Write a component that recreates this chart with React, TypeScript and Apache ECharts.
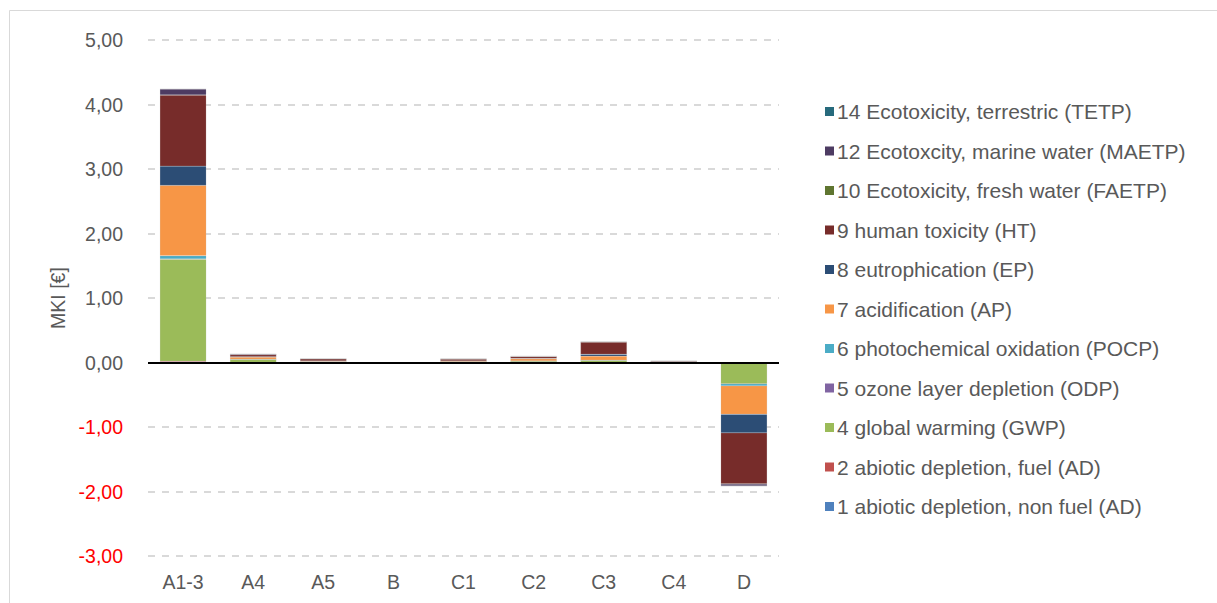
import React, { useEffect, useRef } from "react";
import * as echarts from "echarts";

const categories = ["A1-3", "A4", "A5", "B", "C1", "C2", "C3", "C4", "D"];

const adNonFuel = [0.01, 0, 0, 0, 0, 0, 0, 0, -0.005];
const adFuel = [0.01, 0.002, 0.001, 0, 0.001, 0.002, 0.003, 0, -0.01];
const gwp = [1.58, 0.045, 0.01, 0, 0.008, 0.02, 0.03, 0.005, -0.315];
const odp = [0.005, 0, 0, 0, 0, 0, 0, 0, -0.002];
const pocp = [0.05, 0.005, 0.002, 0, 0.002, 0.004, 0.005, 0.001, -0.03];
const ap = [1.09, 0.03, 0.01, 0, 0.01, 0.03, 0.06, 0.003, -0.44];
const ep = [0.3, 0.01, 0.003, 0, 0.003, 0.006, 0.03, 0.001, -0.29];
const ht = [1.1, 0.03, 0.03, 0, 0.03, 0.03, 0.19, 0.01, -0.79];
const faetp = [0.005, 0, 0, 0, 0, 0, 0, 0, -0.003];
const maetp = [0.09, 0.01, 0.004, 0, 0.004, 0.005, 0.005, 0.002, -0.03];
const tetp = [0.003, 0.001, 0.001, 0, 0.001, 0.001, 0.002, 0, -0.002];

const seriesNames = [
  "1 abiotic depletion, non fuel (AD)",
  "2 abiotic depletion, fuel (AD)",
  "4 global warming (GWP)",
  "5 ozone layer depletion (ODP)",
  "6 photochemical oxidation (POCP)",
  "7 acidification (AP)",
  "8 eutrophication (EP)",
  "9 human toxicity (HT)",
  "10 Ecotoxicity, fresh water (FAETP)",
  "12 Ecotoxcity, marine water (MAETP)",
  "14 Ecotoxicity, terrestric (TETP)",
];
const seriesValues = [adNonFuel, adFuel, gwp, odp, pocp, ap, ep, ht, faetp, maetp, tetp];
const seriesColors = [
  "#4F81BD",
  "#C0504D",
  "#9BBB59",
  "#8064A2",
  "#4BACC6",
  "#F79646",
  "#2C4D75",
  "#772C2A",
  "#5F7530",
  "#4D3B62",
  "#276A7C",
];

const yMin = -3;
const yMax = 5;
const yInterval = 1;

const FONT = "'Liberation Sans', Arial, sans-serif";

export default function App() {
  const ref = useRef<HTMLDivElement>(null);

  useEffect(() => {
    if (!ref.current) return;
    const chart = echarts.init(ref.current, undefined, { renderer: "svg" });

    const series: any[] = seriesNames.map((name, i) => ({
      name,
      type: "bar",
      stack: "total",
      barWidth: "66%",
      data: seriesValues[i],
      itemStyle: {
        color: seriesColors[i],
        borderColor: "rgba(200,200,200,0.6)",
        borderWidth: 0.3,
      },
    }));
    series[0].markLine = {
      silent: true,
      symbol: "none",
      animation: false,
      label: { show: false },
      lineStyle: { color: "#000000", width: 2, type: "solid" },
      data: [{ yAxis: 0 }],
    };

    chart.setOption({
      animation: false,
      backgroundColor: "#ffffff",
      textStyle: { fontFamily: FONT },
      graphic: [
        {
          type: "rect",
          shape: { x: 9.5, y: 10.5, width: 1230, height: 640 },
          style: { fill: "none", stroke: "#D9D9D9", lineWidth: 1 },
          silent: true,
        },
      ],
      grid: { left: 148, right: 438, top: 40, bottom: 47, containLabel: false },
      legend: {
        orient: "vertical",
        left: 820,
        top: 96,
        padding: [5, 5, 5, 5],
        itemWidth: 9,
        itemHeight: 9,
        itemGap: 18.5,
        icon: "rect",
        itemStyle: { borderWidth: 0 },
        data: [...seriesNames].reverse(),
        textStyle: { color: "#595959", fontSize: 21, fontFamily: FONT, lineHeight: 20, padding: [0, 0, 0, -2] },
      },
      xAxis: {
        type: "category",
        data: categories,
        axisLine: { show: false, onZero: false },
        axisTick: { show: false },
        axisLabel: { color: "#595959", fontSize: 19.5, margin: 16, fontFamily: FONT },
      },
      yAxis: {
        type: "value",
        min: yMin,
        max: yMax,
        interval: yInterval,
        name: "MKI [€]",
        nameLocation: "middle",
        nameGap: 77,
        nameTextStyle: { color: "#595959", fontSize: 19.5, fontFamily: FONT },
        axisLine: { show: false },
        axisTick: { show: false },
        axisLabel: {
          margin: 25,
          fontSize: 19.5,
          fontFamily: FONT,
          formatter: (v: number) => v.toFixed(2).replace(".", ","),
          color: (v: any) => (Number(v) < 0 ? "#FF0000" : "#595959"),
        },
        splitLine: { lineStyle: { color: "#D9D9D9", width: 2, type: [7, 7] } },
      },
      series,
    });

    return () => chart.dispose();
  }, []);

  return (
    <div
      ref={ref}
      style={{ position: "fixed", left: 0, top: 0, width: 1217, height: 603 }}
    />
  );
}
